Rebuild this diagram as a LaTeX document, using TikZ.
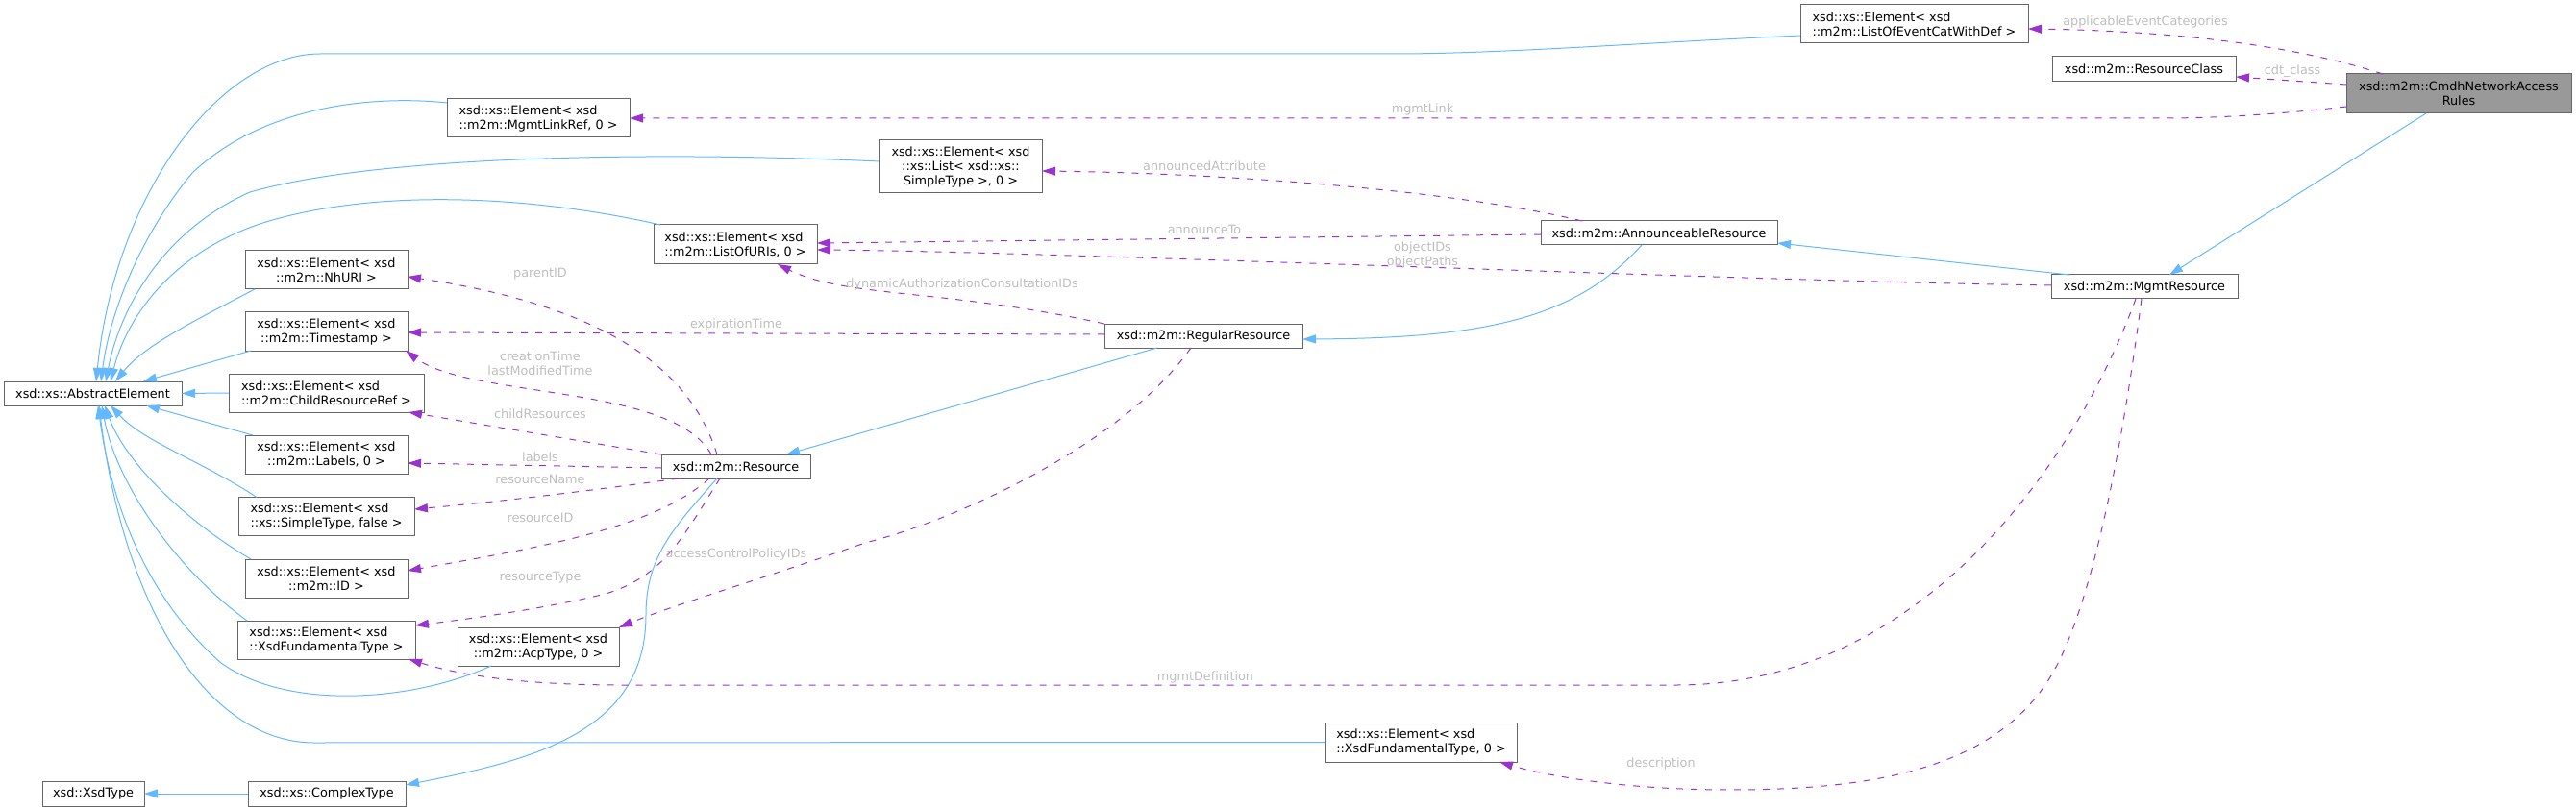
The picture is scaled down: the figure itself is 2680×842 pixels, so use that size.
\documentclass[tikz,border=0pt]{standalone}
\usepackage{fontspec}
\usetikzlibrary{arrows.meta,calc}
\newfontfamily\dvs{DejaVu Sans}
\newcommand{\nodefont}{\dvs\fontsize{12.8pt}{15pt}\selectfont}
\definecolor{boxborder}{HTML}{666666}
\definecolor{mainfill}{HTML}{999999}
\definecolor{inhblue}{HTML}{63B8FF}
\definecolor{usepurple}{HTML}{9A32CD}
\definecolor{labelgrey}{HTML}{BEBEBE}
\tikzset{
  box/.style={draw=boxborder, fill=white, line width=1pt, inner sep=0pt, outer sep=0pt, align=center, font=\nodefont},
  boxl/.style={box, align=left},
  inh/.style={draw=inhblue, line width=1pt, -{Triangle[length=14pt,width=9pt]}},
  use/.style={draw=usepurple, line width=1pt, dash pattern=on 7pt off 8pt, -{Triangle[length=14pt,width=9pt]}},
  lbl/.style={font=\nodefont, text=labelgrey, inner sep=0pt, align=center},
}
\begin{document}
\begin{tikzpicture}[x=1pt,y=-1pt]
\useasboundingbox (0,0) rectangle (2680,842);
% nodes
\node[box, minimum width=185pt, minimum height=25pt] (ae) at (96.5,409.5) {xsd::xs::AbstractElement};
\node[boxl, minimum width=237pt, minimum height=40pt] (lec) at (1991.5,25) {xsd::xs::Element< xsd\\::m2m::ListOfEventCatWithDef >};
\node[box, minimum width=191pt, minimum height=26pt] (rc) at (2230.5,72) {xsd::m2m::ResourceClass};
\node[box, fill=mainfill, minimum width=234pt, minimum height=41pt] (cmdh) at (2558,97.5) {xsd::m2m::CmdhNetworkAccess\\Rules};
\node[boxl, minimum width=190pt, minimum height=40pt] (mlr) at (560,123) {xsd::xs::Element< xsd\\::m2m::MgmtLinkRef, 0 >};
\node[box, minimum width=169pt, minimum height=55pt] (lst) at (999.5,173.5) {xsd::xs::Element< xsd\\::xs::List< xsd::xs::\\SimpleType >, 0 >};
\node[boxl, minimum width=170pt, minimum height=41pt] (uri) at (765,254.5) {xsd::xs::Element< xsd\\::m2m::ListOfURIs, 0 >};
\node[box, minimum width=246pt, minimum height=25pt] (ann) at (1726,242.5) {xsd::m2m::AnnounceableResource};
\node[box, minimum width=194pt, minimum height=25pt] (mgr) at (2231,298.5) {xsd::m2m::MgmtResource};
\node[box, minimum width=169pt, minimum height=40pt] (nh) at (339.5,281) {xsd::xs::Element< xsd\\::m2m::NhURI >};
\node[box, minimum width=169pt, minimum height=40pt] (ts) at (339.5,345) {xsd::xs::Element< xsd\\::m2m::Timestamp >};
\node[box, minimum width=206pt, minimum height=25pt] (rr) at (1252,349.5) {xsd::m2m::RegularResource};
\node[boxl, minimum width=203pt, minimum height=40pt] (crr) at (339.5,409) {xsd::xs::Element< xsd\\::m2m::ChildResourceRef >};
\node[box, minimum width=155pt, minimum height=25pt] (res) at (765.5,485.5) {xsd::m2m::Resource};
\node[box, minimum width=169pt, minimum height=40pt] (lab) at (339.5,473) {xsd::xs::Element< xsd\\::m2m::Labels, 0 >};
\node[boxl, minimum width=183pt, minimum height=40pt] (stf) at (339.5,537.5) {xsd::xs::Element< xsd\\::xs::SimpleType, false >};
\node[box, minimum width=169pt, minimum height=40pt] (id) at (339.5,602) {xsd::xs::Element< xsd\\::m2m::ID >};
\node[boxl, minimum width=185pt, minimum height=40pt] (xft) at (339.5,666) {xsd::xs::Element< xsd\\::XsdFundamentalType >};
\node[box, minimum width=168pt, minimum height=40pt] (acp) at (560,673) {xsd::xs::Element< xsd\\::m2m::AcpType, 0 >};
\node[boxl, minimum width=199pt, minimum height=41pt] (xft0) at (1478.5,772.5) {xsd::xs::Element< xsd\\::XsdFundamentalType, 0 >};
\node[box, minimum width=106pt, minimum height=26pt] (xt) at (97,826) {xsd::XsdType};
\node[box, minimum width=164pt, minimum height=26pt] (ct) at (340,826) {xsd::xs::ComplexType};

% inheritance edges
\draw[inh] ($(lec.west)+(0,12)$) .. controls (1700,45) and (1560,56) .. (1450,56) -- (333,56) .. controls (230,56) and (120,200) .. ($(ae.north)+(3.5,0)$);
\draw[inh] ($(mlr.west)+(0,-16)$) .. controls (400,100) and (280,105) .. (200,180) .. controls (150,240) and (115,320) .. ($(ae.north)+(8.5,0)$);
\draw[inh] ($(lst.west)+(0,-5.5)$) .. controls (700,158) and (400,160) .. (260,200) .. controls (170,240) and (125,320) .. ($(ae.north)+(13.5,0)$);
\draw[inh] ($(uri.north west)+(7,0)$) .. controls (560,205) and (400,195) .. (280,230) .. controls (180,260) and (132,330) .. ($(ae.north)+(18.5,0)$);
\draw[inh] ($(nh.south west)+(10,0)$) .. controls (200,335) and (150,360) .. ($(ae.north)+(23.5,0)$);
\draw[inh] ($(ts.south west)+(6,0)$) -- ($(ae.north)+(52.5,0)$);
\draw[inh] (crr.west) -- (ae.east);
\draw[inh] ($(lab.north west)+(8,0)$) -- ($(ae.south)+(55.5,0)$);
\draw[inh] ($(stf.north west)+(19,0)$) .. controls (210,480) and (150,460) .. ($(ae.south)+(18.5,0)$);
\draw[inh] ($(id.north west)+(6,0)$) .. controls (190,540) and (130,480) .. ($(ae.south)+(12.5,0)$);
\draw[inh] ($(xft.north west)+(10,0)$) .. controls (180,590) and (120,500) .. ($(ae.south)+(9.5,0)$);
\draw[inh] ($(acp.south west)+(35,0)$) .. controls (430,730) and (300,740) .. (230,690) .. controls (150,620) and (115,520) .. ($(ae.south)+(5.5,0)$);
\draw[inh] (xft0.west) -- (327,773) .. controls (220,773) and (130,640) .. ($(ae.south)+(6.5,0)$);
\draw[inh] (ct.west) -- (xt.east);
\draw[inh] ($(res.south)+(-19.5,0)$) .. controls (700,550) and (672,580) .. (672,640) .. controls (672,760) and (560,790) .. ($(ct.east)+(0,-9)$);
\draw[inh] ($(rr.south)+(-48,0)$) -- ($(res.north)+(52.5,0)$);
\draw[inh] ($(ann.south)+(-18,0)$) .. controls (1640,330) and (1550,352) .. ($(rr.east)+(0,3.5)$);
\draw[inh] ($(mgr.north)+(-78,0)$) -- ($(ann.east)+(0,10.5)$);
\draw[inh] ($(cmdh.south)+(-34,0)$) -- ($(mgr.north)+(26,0)$);

% usage edges
\draw[use] ($(cmdh.north)+(-79,0)$) .. controls (2380,45) and (2250,32) .. ($(lec.east)+(0,5)$);
\draw[use] ($(cmdh.west)+(0,-9.5)$) -- ($(rc.east)+(0,8)$);
\draw[use] ($(cmdh.west)+(0,13.5)$) .. controls (2360,120) and (2300,123) .. (2249,123) -- (mlr.east);
\draw[use] ($(ann.north)+(-80,0)$) .. controls (1500,195) and (1250,180) .. ($(lst.east)+(0,4.5)$);
\draw[use] ($(ann.west)+(0,1.5)$) -- ($(uri.east)+(0,-1.5)$);
\draw[use] ($(mgr.west)+(0,-1.5)$) .. controls (1800,292) and (1100,262) .. ($(uri.east)+(0,5.5)$);
\draw[use] (rr.north west) .. controls (980,300) and (880,310) .. ($(uri.south)+(44,0)$);
\draw[use] ($(rr.west)+(0,-1.5)$) -- ($(ts.east)+(0,1)$);
\draw[use] ($(rr.south)+(-13,0)$) .. controls (1170,460) and (1000,540) .. (900,565) .. controls (800,600) and (700,630) .. (acp.north east);
\draw[use] ($(res.north)+(-19.5,0)$) .. controls (720,390) and (640,320) .. ($(nh.east)+(0,7)$);
\draw[use] ($(res.north)+(-25.5,0)$) .. controls (700,400) and (490,415) .. ($(ts.south east)+(-2,0)$);
\draw[use] (res.north west) -- ($(crr.south east)+(-16,0)$);
\draw[use] ($(res.west)+(0,1.5)$) -- ($(lab.east)+(0,9)$);
\draw[use] ($(res.south west)+(18,0)$) .. controls (620,510) and (520,522) .. ($(stf.east)+(0,-7.5)$);
\draw[use] ($(res.south)+(-27.5,0)$) .. controls (680,550) and (560,570) .. ($(id.east)+(0,-8)$);
\draw[use] ($(res.south)+(-16.5,0)$) .. controls (710,560) and (690,600) .. (630,618) .. controls (560,635) and (480,645) .. ($(xft.east)+(0,-15)$);
\draw[use] ($(mgr.south)+(-9,0)$) .. controls (2160,480) and (2000,713) .. (1744,713) -- (649,713) .. controls (530,713) and (470,700) .. ($(xft.south east)+(-7,0)$);
\draw[use] ($(mgr.south)+(-3,0)$) .. controls (2210,450) and (2180,620) .. (2137,698) .. controls (2080,800) and (1950,822) .. (1800,822) .. controls (1680,822) and (1600,805) .. ($(xft0.south east)+(-18,0)$);

% labels
\node[lbl] (l1) at (2232,23) {applicableEventCategories};
\node[lbl] (l2) at (2385,74) {cdt\_class};
\node[lbl] (l3) at (1480,114) {mgmtLink};
\node[lbl] (l4) at (1253,173) {announcedAttribute};
\node[lbl] (l5) at (1253,239) {announceTo};
\node[lbl] (l6) at (1480,265.5) {objectIDs\\objectPaths};
\node[lbl] (l7) at (1001,296) {dynamicAuthorizationConsultationIDs};
\node[lbl] (l8) at (766,338) {expirationTime};
\node[lbl] (l9) at (562,285) {parentID};
\node[lbl] (l10) at (562,378) {creationTime\\lastModifiedTime};
\node[lbl] (l11) at (562,431) {childResources};
\node[lbl] (l12) at (562,476) {labels};
\node[lbl] (l13) at (562,499) {resourceName};
\node[lbl] (l14) at (562,539) {resourceID};
\node[lbl] (l15) at (562,601) {resourceType};
\node[lbl] (l16) at (766,577) {accessControlPolicyIDs};
\node[lbl] (l17) at (1254,705) {mgmtDefinition};
\node[lbl] (l18) at (1728,795) {description};
\end{tikzpicture}
\end{document}
